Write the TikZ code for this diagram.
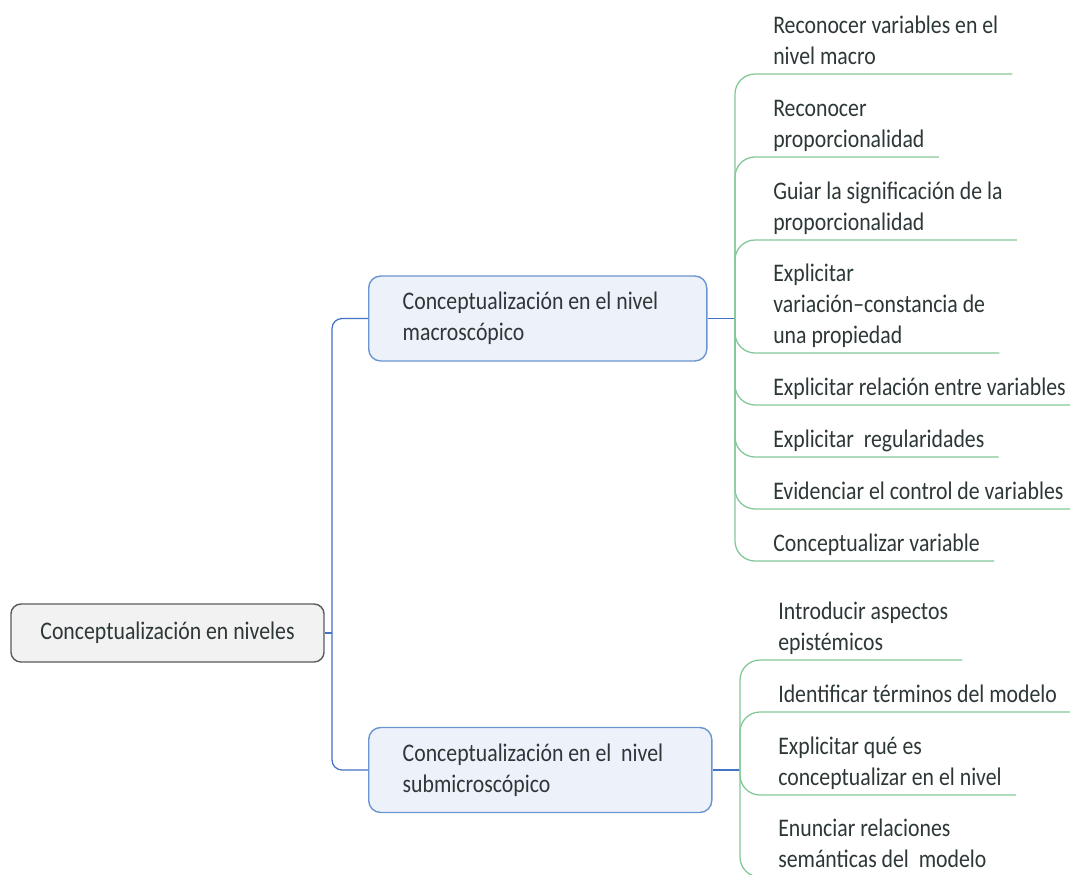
\documentclass[tikz,border=0pt]{standalone}
\usepackage{fontspec}
\setmainfont{Carlito}[FakeStretch=0.86]
\definecolor{txtgray}{RGB}{45,55,55}
\definecolor{rootgray}{RGB}{90,90,90}
\definecolor{rootfill}{RGB}{242,242,242}
\definecolor{boxblue}{RGB}{106,149,207}
\definecolor{boxfill}{RGB}{237,242,250}
\definecolor{trunkblue}{RGB}{68,114,196}
\definecolor{leafgreen}{RGB}{130,200,150}
\begin{document}
\begin{tikzpicture}[x=0.025cm, y=-0.025cm,
    every node/.style={font=\fontsize{18}{22}\selectfont, text=txtgray},
    rootbox/.style={draw=rootgray, fill=rootfill, line width=1pt, rounded corners=0.25cm,
        minimum width=7.825cm, minimum height=1.45cm},
    levelbox/.style={draw=boxblue, fill=boxfill, line width=1pt, rounded corners=0.3cm,
        anchor=west, align=flush left, inner xsep=0.85cm, minimum height=2.125cm},
    leaf/.style={anchor=south west, align=flush left, inner xsep=0.35cm, inner ysep=1.5pt, text depth=5pt},
    trunk/.style={trunkblue, line width=0.9pt, rounded corners=0.25cm},
    leafline/.style={leafgreen, line width=0.9pt, rounded corners=0.5cm}]
    \clip (0,0) rectangle (1070,874);

    % raíz
    \node[rootbox] (root) at (167.5,633) {Conceptualización en niveles};

    % niveles
    \node[levelbox, text width=6.75cm] (macro) at (368,318.5)
        {Conceptualización en el nivel\\macroscópico};
    \node[levelbox, text width=6.875cm] (sub) at (368,770)
        {Conceptualización en el~ nivel\\submicroscópico};

    \draw[trunk] (root.east) -- (332,633) coordinate (rj);
    \draw[trunk] (rj) |- (macro.west);
    \draw[trunk] (rj) |- (sub.west);

    \coordinate (mj) at (735,318.5);
    \coordinate (sj) at (740,770);
    \draw[trunk] (macro.east) -- (mj);
    \draw[trunk] (sub.east) -- (sj);

    % nivel macroscópico
    \node[leaf] (m1) at (759,74) {Reconocer variables en el\\nivel macro};
    \node[leaf] (m2) at (759,157) {Reconocer\\proporcionalidad};
    \node[leaf] (m3) at (759,240) {Guiar la significación de la\\proporcionalidad};
    \node[leaf] (m4) at (759,353) {Explicitar\\variación–constancia de\\una propiedad};
    \node[leaf] (m5) at (759,405) {Explicitar relación entre variables};
    \node[leaf] (m6) at (759,457) {Explicitar~ regularidades};
    \node[leaf] (m7) at (759,509) {Evidenciar el control de variables};
    \node[leaf] (m8) at (759,561) {Conceptualizar variable};
    \draw[leafline] (mj) |- (m1.south east);
    \draw[leafline] (mj) |- (m2.south east);
    \draw[leafline] (mj) |- (m3.south east);
    \draw[leafline] (mj) |- (m4.south east);
    \draw[leafline] (mj) |- (m5.south east);
    \draw[leafline] (mj) |- (m6.south east);
    \draw[leafline] (mj) |- (m7.south east);
    \draw[leafline] (mj) |- (m8.south east);

    % nivel submicroscópico
    \node[leaf] (s1) at (764,660) {Introducir aspectos\\epistémicos};
    \node[leaf] (s2) at (764,712) {Identificar términos del modelo};
    \node[leaf] (s3) at (764,795) {Explicitar qué es\\conceptualizar en el nivel};
    \node[leaf] (s4) at (764,877) {Enunciar relaciones\\semánticas del~ modelo};
    \draw[leafline] (sj) |- (s1.south east);
    \draw[leafline] (sj) |- (s2.south east);
    \draw[leafline] (sj) |- (s3.south east);
    \draw[leafline] (sj) |- (s4.south east);
\end{tikzpicture}
\end{document}
